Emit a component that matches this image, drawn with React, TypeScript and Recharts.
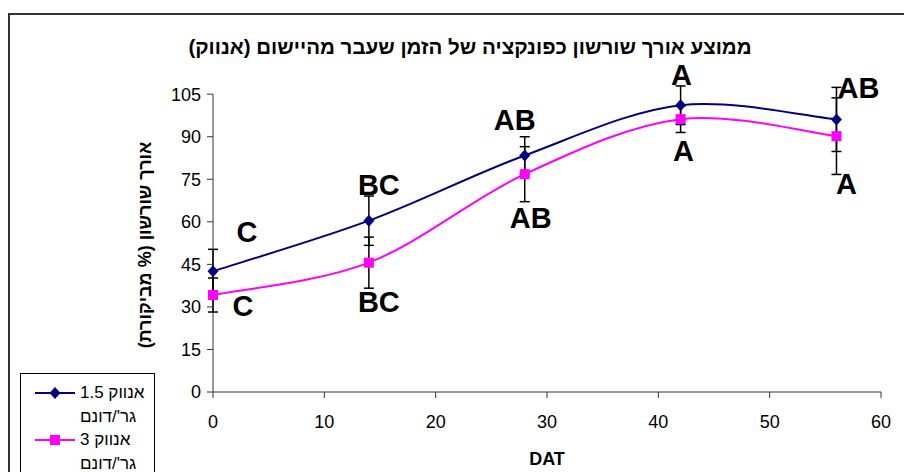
import React from "react";
import {
  LineChart,
  Line,
  XAxis,
  YAxis,
  ErrorBar,
  LabelList,
  Legend,
  ReferenceLine,
} from "recharts";

// values
const days = [0, 14, 28, 42, 56];
const rate15 = [42.6, 60.4, 83.4, 101.1, 96.1];
const rate3 = [34.2, 45.6, 76.8, 96.2, 90.2];
const err15 = [7.7, 8.7, 6.6, 6.8, 11.3];
const err3 = [6, 9, 9.7, 4.7, 13.5];
const letters15 = ["C", "BC", "AB", "A", "AB"];
const letters3 = ["C", "BC", "AB", "A", "A"];
const xTicks = [0, 10, 20, 30, 40, 50, 60];
const yTicks = [0, 15, 30, 45, 60, 75, 90, 105];
const seriesNames = ["אנווק 1.5 גר'/דונם", "אנווק 3 גר'/דונם"];
const title = "ממוצע אורך שורשון כפונקציה של הזמן שעבר מהיישום (אנווק)";
const yLabel = "אורך שורשון (% מביקורת)";
const xLabel = "DAT";

const data = days.map((d, i) => ({
  day: d,
  r15: rate15[i],
  r3: rate3[i],
  e15: err15[i],
  e3: err3[i],
  l15: letters15[i],
  l3: letters3[i],
}));

// pixel offsets of the significance letters from their point
const OFF15 = [[34, -40], [10, -36], [-10, -36], [1, -31], [22, -32]];
const OFF3 = [[30, 11], [10, 39], [6, 43], [3, 31], [10, 47]];

const FONT = '"Liberation Sans", Arial, sans-serif';
const NAVY = "#000080";
const PINK = "#FF00FF";

// Excel-like smoothed line (Catmull-Rom through the points)
const smoothCurve = (ctx: any) => {
  let pts: number[][] = [];
  return {
    areaStart() {},
    areaEnd() {},
    lineStart() {
      pts = [];
    },
    lineEnd() {
      if (!pts.length) return;
      ctx.moveTo(pts[0][0], pts[0][1]);
      for (let i = 0; i < pts.length - 1; i++) {
        const p0 = pts[i - 1] ?? pts[i];
        const p1 = pts[i];
        const p2 = pts[i + 1];
        const p3 = pts[i + 2] ?? p2;
        ctx.bezierCurveTo(
          p1[0] + (p2[0] - p0[0]) / 6,
          p1[1] + (p2[1] - p0[1]) / 6,
          p2[0] - (p3[0] - p1[0]) / 6,
          p2[1] - (p3[1] - p1[1]) / 6,
          p2[0],
          p2[1]
        );
      }
    },
    point(x: number, y: number) {
      pts.push([x, y]);
    },
  };
};

const Diamond = ({ cx, cy }: any) => (
  <path d={`M${cx},${cy - 6}L${cx + 5.5},${cy}L${cx},${cy + 6}L${cx - 5.5},${cy}Z`} fill={NAVY} />
);
const Square = ({ cx, cy }: any) => (
  <rect x={cx - 5} y={cy - 5} width={10} height={10} fill={PINK} />
);

const letterRenderer = (offsets: number[][]) => (props: any) => {
  const { x, y, value, index } = props;
  const [dx, dy] = offsets[index];
  return (
    <text
      x={x + dx}
      y={y + dy}
      dy="0.36em"
      textAnchor="middle"
      fontFamily={FONT}
      fontWeight="bold"
      fontSize={29}
      fill="#000"
    >
      {value}
    </text>
  );
};

const YTitle = ({ viewBox }: any) => {
  const cx = viewBox.x + 12;
  const cy = viewBox.y + viewBox.height / 2 + 9;
  return (
    <text
      x={cx}
      y={cy}
      transform={`rotate(-90 ${cx} ${cy})`}
      textAnchor="middle"
      dominantBaseline="central"
      direction="rtl"
      fontFamily={FONT}
      fontWeight="bold"
      fontSize={18}
      fill="#000"
    >
      {yLabel}
    </text>
  );
};

const LegendBox = ({ payload }: any) => (
  <div
    style={{
      width: 135,
      height: 112,
      boxSizing: "border-box",
      border: "1px solid #000",
      background: "#fff",
      paddingTop: 7,
      fontFamily: FONT,
      fontSize: 17,
      lineHeight: "23.5px",
      color: "#000",
    }}
  >
    {(payload || []).map((p: any) => {
      const navy = p.dataKey === "r15";
      return (
        <div key={p.dataKey} style={{ display: "flex", alignItems: "flex-start" }}>
          <svg width={40} height={23.5} style={{ marginLeft: 14, flex: "none" }}>
            <line x1={0} x2={40} y1={12} y2={12} stroke={p.color} strokeWidth={2} />
            {navy ? <Diamond cx={20} cy={12} /> : <Square cx={20} cy={12} />}
          </svg>
          <div style={{ width: 76, marginLeft: 5, direction: "rtl", textAlign: "left" }}>
            {p.value}
          </div>
        </div>
      );
    })}
  </div>
);

export default function App() {
  return (
    <div style={{ position: "relative", width: 896, height: 464 }}>
      <div
        style={{
          position: "absolute",
          left: 0,
          top: 0,
          width: 904,
          height: 464,
          overflow: "hidden",
          background: "#fff",
        }}
      >
        <div
          style={{
            position: "absolute",
            left: 0,
            top: 5,
            width: 1000,
            height: 1000,
            borderLeft: "2px solid #333",
            borderTop: "2px solid #333",
          }}
        />
        <div
          style={{
            position: "absolute",
            left: 462,
            top: 27,
            transform: "translateX(-50%)",
            whiteSpace: "nowrap",
            direction: "rtl",
            fontFamily: FONT,
            fontWeight: "bold",
            fontSize: 20.5,
            lineHeight: "24px",
          }}
        >
          {title}
        </div>
        <LineChart
          width={904}
          height={464}
          data={data}
          margin={{ top: 72, right: 31, bottom: 7, left: 125 }}
          style={{ position: "absolute", left: 0, top: 0 }}
        >
          <XAxis
            dataKey="day"
            type="number"
            domain={[0, 60]}
            ticks={xTicks}
            height={73}
            tickSize={6}
            tickMargin={17}
            stroke="#333"
            tick={{ fontFamily: FONT, fontSize: 18, fill: "#000" }}
            label={{
              value: xLabel,
              position: "insideBottom",
              offset: 0,
              fontFamily: FONT,
              fontWeight: "bold",
              fontSize: 18,
              fill: "#000",
            }}
          />
          <YAxis
            type="number"
            domain={[0, 110]}
            ticks={yTicks}
            width={80}
            axisLine={false}
            tickSize={6}
            tickMargin={6}
            stroke="#333"
            tick={{ fontFamily: FONT, fontSize: 18, fill: "#000" }}
            label={<YTitle />}
          />
          <ReferenceLine
            segment={[
              { x: 0, y: 0 },
              { x: 0, y: 105 },
            ]}
            stroke="#333"
          />
          <Line
            dataKey="r15"
            name={seriesNames[0]}
            type={smoothCurve as any}
            stroke={NAVY}
            strokeWidth={2}
            dot={<Diamond />}
            activeDot={false}
            isAnimationActive={false}
          >
            <ErrorBar dataKey="e15" width={5} stroke="#000" strokeWidth={1.5} direction="y" />
            <LabelList dataKey="l15" content={letterRenderer(OFF15)} />
          </Line>
          <Line
            dataKey="r3"
            name={seriesNames[1]}
            type={smoothCurve as any}
            stroke={PINK}
            strokeWidth={2}
            dot={<Square />}
            activeDot={false}
            isAnimationActive={false}
          >
            <ErrorBar dataKey="e3" width={5} stroke="#000" strokeWidth={1.5} direction="y" />
            <LabelList dataKey="l3" content={letterRenderer(OFF3)} />
          </Line>
          <Legend
            layout="vertical"
            align="center"
            verticalAlign="middle"
            content={<LegendBox />}
            wrapperStyle={{ left: 12, top: 365, width: 135 }}
          />
        </LineChart>
      </div>
    </div>
  );
}
